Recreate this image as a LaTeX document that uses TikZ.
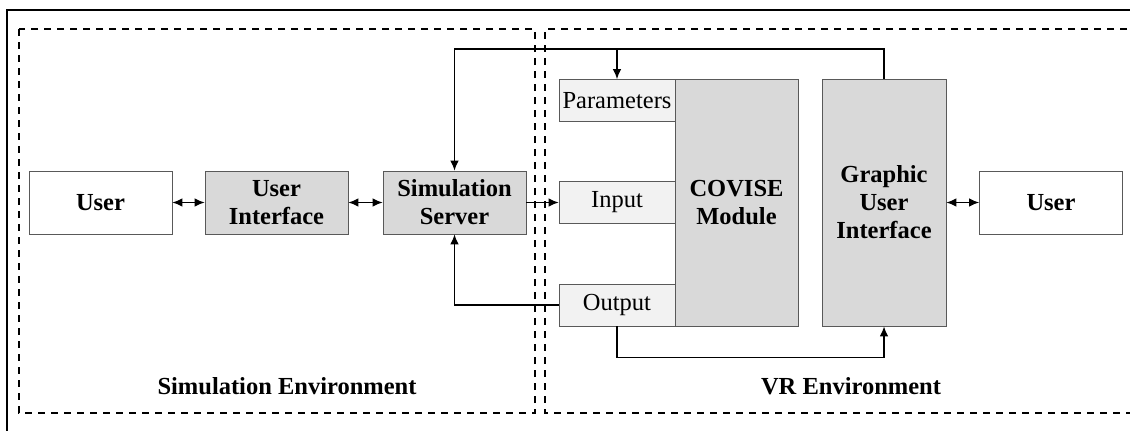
\documentclass[tikz,border=0pt]{standalone}
\usepackage{fontspec}
\setmainfont{Liberation Serif}
\usetikzlibrary{arrows.meta}

\begin{document}
\begin{tikzpicture}[x=1pt,y=-1pt,line width=1.1pt,>={Latex[length=10pt,width=8.5pt]},
  every node/.style={draw=black!65,line width=.9pt,align=center,inner sep=0pt,font=\fontsize{24.5}{28}\selectfont},
  blk/.style={minimum width=143pt,minimum height=63pt,font=\fontsize{24.5}{28}\selectfont\bfseries},
  tall/.style={fill=black!15,minimum height=247pt,font=\fontsize{24.5}{28}\selectfont\bfseries},
  port/.style={fill=black!5,minimum width=116pt,minimum height=42pt},
  env/.style={dash pattern=on 7pt off 6pt,line width=1.2pt}]
\useasboundingbox (0,0) rectangle (1130,431);
\draw[line width=1.6pt] (7,440) -- (7,10) -- (1140,10);
\draw[env] (19,29) rectangle (535,413);
\draw[env] (1140,29) -- (545,29) -- (545,413) -- (1140,413);
% simulation side
\node[blk] (userl) at (100.5,202.5) {User};
\node[blk,fill=black!15] (ui) at (276.5,202.5) {User\\Interface};
\node[blk,fill=black!15] (sim) at (454.5,202.5) {Simulation\\Server};
% vr side
\node[tall,minimum width=123pt] (cov) at (736.5,202.5) {COVISE\\Module};
\node[port] (par) at (617,100.5) {Parameters};
\node[port] (inp) at (617,202.5) {Input};
\node[port] (outp) at (617,305) {Output};
\node[tall,minimum width=124pt] (gui) at (884,202.5) {Graphic\\User\\Interface};
\node[blk] (userr) at (1051,202.5) {User};
\node[draw=none,anchor=base,font=\fontsize{24.5}{28}\selectfont\bfseries] (simenv) at (287,394) {Simulation Environment};
\node[draw=none,anchor=base,font=\fontsize{24.5}{28}\selectfont\bfseries] (vrenv) at (851,394) {VR Environment};
\coordinate (top) at (0,49);
\draw[<->] (userl) -- (ui);
\draw[<->] (ui) -- (sim);
\draw[<->] (gui) -- (userr);
\draw[->] (sim) -- (inp);
\draw[->] (gui.north) |- (top -| sim.north) -- (sim.north);
\draw[->] (top -| par.north) -- (par.north);
\draw[->] (outp.west) -| (sim.south);
\draw[->] (outp.south) -- ++(0,31) -| (gui.south);
\end{tikzpicture}
\end{document}
